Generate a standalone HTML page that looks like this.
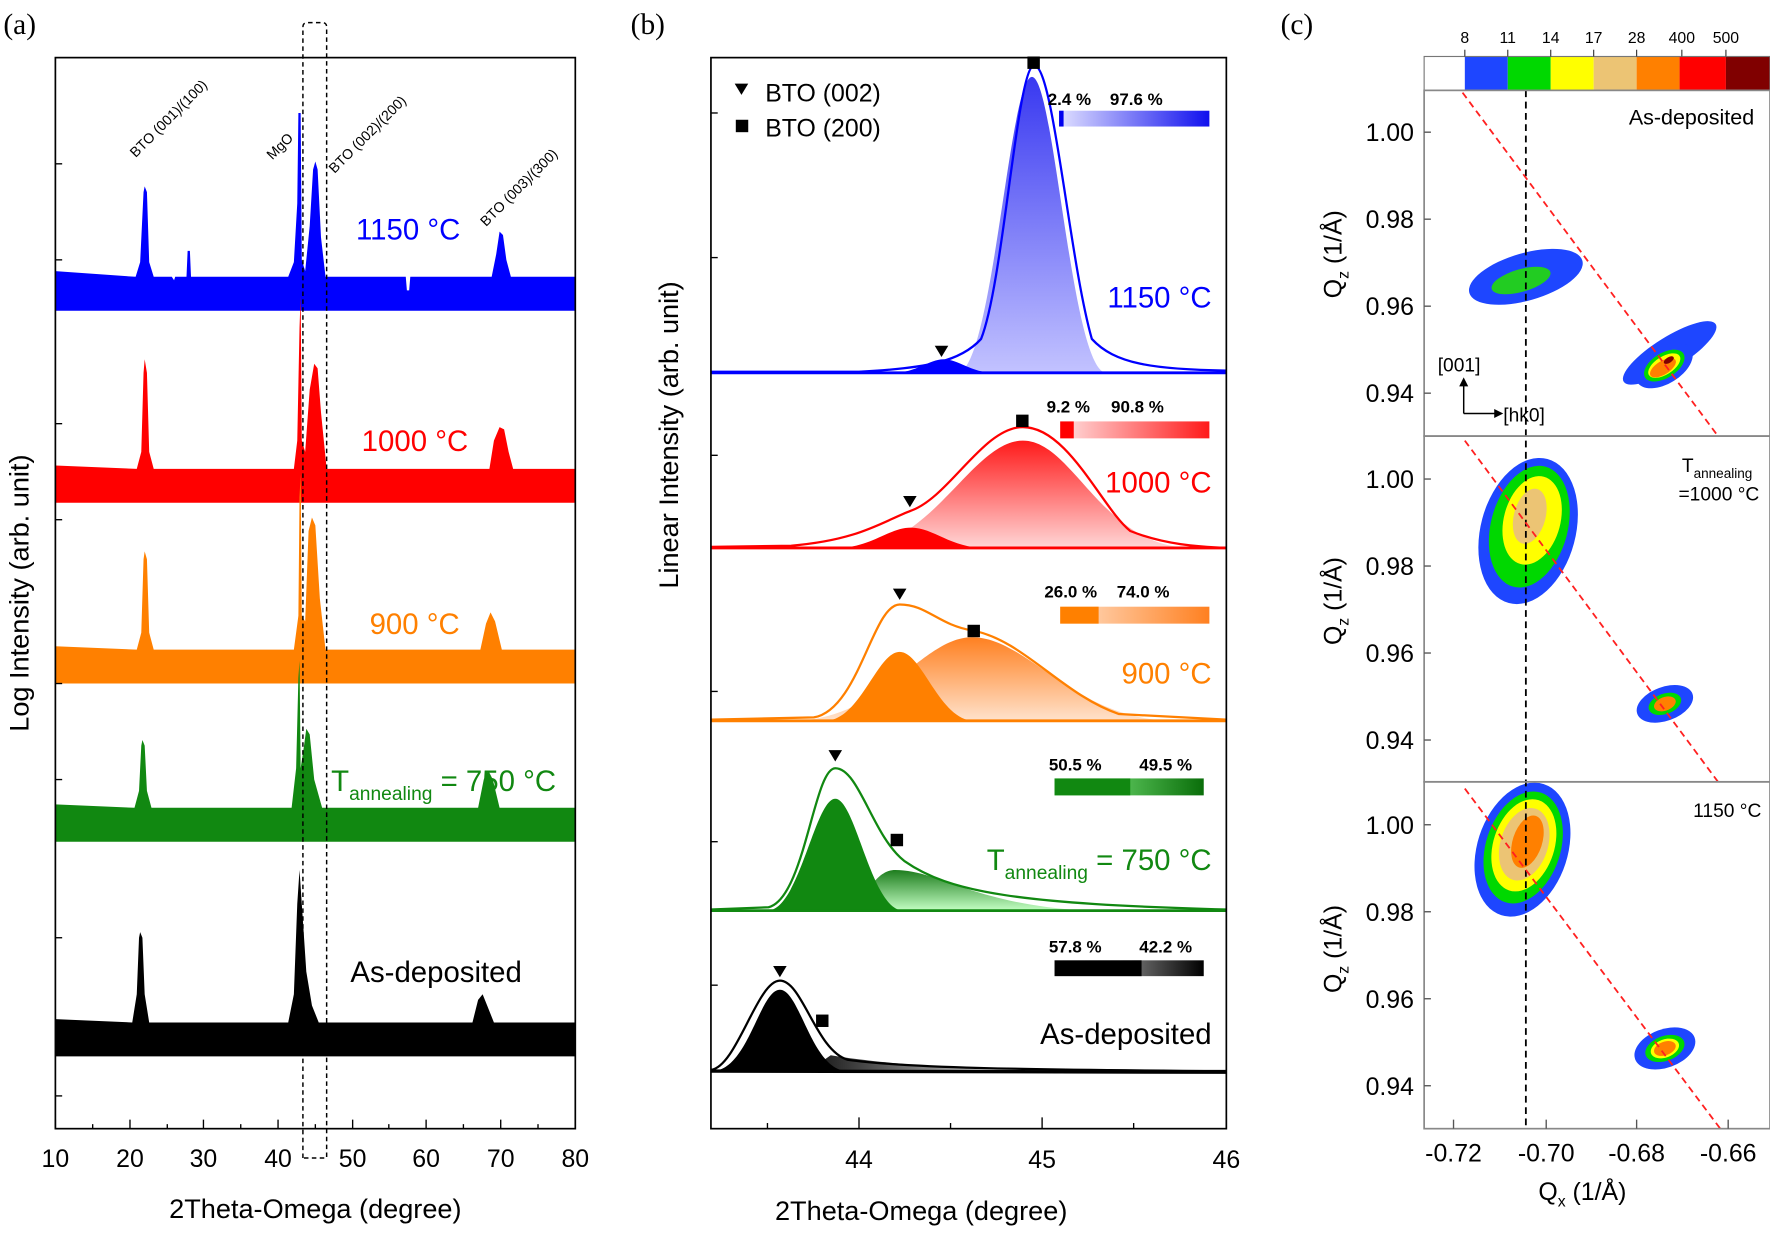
<!DOCTYPE html>
<html><head><meta charset="utf-8"><style>
html,body{margin:0;padding:0;background:#fff;}
svg{display:block;}
text{font-family:"Liberation Sans",sans-serif;}
</style></head><body>
<svg width="1770" height="1236" viewBox="0 0 1566 1094" preserveAspectRatio="none" xmlns="http://www.w3.org/2000/svg">
<defs>
<linearGradient id="gB" x1="0" y1="0" x2="0" y2="1"><stop offset="0" stop-color="#1515ee"/><stop offset="1" stop-color="#b8b8ff"/></linearGradient>
<linearGradient id="gR" x1="0" y1="0" x2="0" y2="1"><stop offset="0" stop-color="#ff1a1a"/><stop offset="1" stop-color="#ffd6d6"/></linearGradient>
<linearGradient id="gO" x1="0" y1="0" x2="0" y2="1"><stop offset="0" stop-color="#ff8020"/><stop offset="1" stop-color="#ffe2cc"/></linearGradient>
<linearGradient id="gG" x1="0" y1="0" x2="0" y2="1"><stop offset="0" stop-color="#1d7d1d"/><stop offset="1" stop-color="#c4ffc4"/></linearGradient>
<linearGradient id="gK" x1="0" y1="0" x2="1" y2="0"><stop offset="0" stop-color="#111"/><stop offset="1" stop-color="#ddd"/></linearGradient>
<linearGradient id="hB" x1="0" x2="1"><stop offset="0" stop-color="#e0e0ff"/><stop offset="1" stop-color="#1010ee"/></linearGradient>
<linearGradient id="hR" x1="0" x2="1"><stop offset="0" stop-color="#ffe0e0"/><stop offset="1" stop-color="#ff1a1a"/></linearGradient>
<linearGradient id="hO" x1="0" x2="1"><stop offset="0" stop-color="#ffe0c8"/><stop offset="1" stop-color="#ff8020"/></linearGradient>
<linearGradient id="hG" x1="0" x2="1"><stop offset="0" stop-color="#90ff90"/><stop offset="1" stop-color="#0a6e0a"/></linearGradient>
<linearGradient id="hK" x1="0" x2="1"><stop offset="0" stop-color="#e8e8e8"/><stop offset="1" stop-color="#000"/></linearGradient>
</defs>

<!-- ================= PANEL A ================= -->
<text x="3" y="30" style="font-family:'Liberation Serif',serif" font-size="26">(a)</text>
<polygon fill="#0000ff" points="49,240 120,245 124,232 127,170 128,165 130,170 132,232 136,245 152,245 154,248 155,245 165,245 166,222 168,222 169,245 255,245 260,232 263,180 264,100 266,100 267,230 270,240 274,200 277,150 279,143 281,150 284,210 288,245 359,245 360,257 362,257 363,245 435,245 439,225 442,205 445,208 448,230 452,245 509,245 509,275 49,275"/>
<polygon fill="#ff0000" points="49,412 121,415 125,400 127,330 128,318 130,330 132,400 136,415 260,415 263,390 265,290 266,262 267,390 270,400 274,345 278,322 281,326 284,365 289,415 433,415 437,390 442,378 446,380 450,400 454,415 509,415 509,445 49,445"/>
<polygon fill="#ff8000" points="49,572 121,575 125,560 127,495 128,488 130,495 132,560 136,575 260,575 264,545 265,440 266,420 267,545 270,550 273,470 276,458 279,465 283,530 288,575 425,575 430,552 434,542 438,550 444,575 509,575 509,605 49,605"/>
<polygon fill="#118811" points="49,712 119,715 123,700 125,660 126,655 128,660 130,700 134,715 258,715 262,680 264,600 265,585 266,680 269,660 271,645 274,650 278,690 285,715 423,715 428,690 432,682 436,690 442,715 509,715 509,745 49,745"/>
<polygon fill="#000" points="49,902 117,905 121,880 123,830 124,825 126,830 128,880 132,905 255,905 260,880 263,800 265,770 267,800 271,860 276,890 282,905 418,905 423,885 427,880 431,890 437,905 509,905 509,935 49,935"/>
<rect x="49" y="51" width="460" height="948" fill="none" stroke="#000" stroke-width="1.5"/>
<g stroke="#000" stroke-width="1.2">
<line x1="49" y1="145" x2="55" y2="145"/><line x1="49" y1="230" x2="55" y2="230"/><line x1="49" y1="375" x2="55" y2="375"/><line x1="49" y1="460" x2="55" y2="460"/><line x1="49" y1="605" x2="55" y2="605"/><line x1="49" y1="690" x2="55" y2="690"/><line x1="49" y1="830" x2="55" y2="830"/><line x1="49" y1="970" x2="55" y2="970"/>
<line x1="49" y1="999" x2="49" y2="991"/><line x1="115" y1="999" x2="115" y2="991"/><line x1="180" y1="999" x2="180" y2="991"/><line x1="246" y1="999" x2="246" y2="991"/><line x1="312" y1="999" x2="312" y2="991"/><line x1="377" y1="999" x2="377" y2="991"/><line x1="443" y1="999" x2="443" y2="991"/><line x1="509" y1="999" x2="509" y2="991"/>
<line x1="82" y1="999" x2="82" y2="995"/><line x1="148" y1="999" x2="148" y2="995"/><line x1="213" y1="999" x2="213" y2="995"/><line x1="279" y1="999" x2="279" y2="995"/><line x1="344" y1="999" x2="344" y2="995"/><line x1="410" y1="999" x2="410" y2="995"/><line x1="476" y1="999" x2="476" y2="995"/>
</g>
<path d="M268,1025 L268,24 Q268,20 272,20 L285,20 Q289,20 289,24 L289,1025 Z" fill="none" stroke="#000" stroke-width="1.3" stroke-dasharray="4,3"/>
<g font-size="22" text-anchor="middle">
<text x="49" y="1033">10</text><text x="115" y="1033">20</text><text x="180" y="1033">30</text><text x="246" y="1033">40</text><text x="312" y="1033">50</text><text x="377" y="1033">60</text><text x="443" y="1033">70</text><text x="509" y="1033">80</text>
</g>
<text x="279" y="1078" font-size="24" text-anchor="middle">2Theta-Omega (degree)</text>
<text transform="translate(25,525) rotate(-90)" font-size="24" text-anchor="middle">Log Intensity (arb. unit)</text>
<g font-size="12.5">
<text transform="translate(120,140) rotate(-45)">BTO (001)/(100)</text>
<text transform="translate(241,142) rotate(-45)">MgO</text>
<text transform="translate(296,154) rotate(-45)">BTO (002)/(200)</text>
<text transform="translate(430,201) rotate(-45)">BTO (003)/(300)</text>
</g>
<g font-size="26">
<text x="315" y="212" fill="#0000ff">1150 °C</text>
<text x="320" y="399" fill="#ff0000">1000 °C</text>
<text x="327" y="561" fill="#ff8000">900 °C</text>
<text x="293" y="700" fill="#118811">T<tspan font-size="17" dy="8">annealing</tspan><tspan dy="-8"> = 750 °C</tspan></text>
<text x="310" y="869" fill="#000">As-deposited</text>
</g>

<!-- ================= PANEL B ================= -->
<text x="558" y="30" style="font-family:'Liberation Serif',serif" font-size="26">(b)</text>
<path d="M847,330 C878,330 893,68 913,68 C933,68 948,330 979,330 Z" fill="url(#gB)" opacity="0.85"/>
<path d="M790,330 C811,330 822,318 835,318 C848,318 859,330 880,330 Z" fill="#0000ff"/>
<path d="M629,329 L760,329 C820,326 850,320 868,300 C888,250 900,58 915,58 C932,58 946,230 966,300 C986,322 1020,327 1085,328" fill="none" stroke="#0000ff" stroke-width="2"/>
<line x1="629" y1="330" x2="1085" y2="330" stroke="#0000ff" stroke-width="2.5"/>
<path d="M755,485 C825,485 860,390 905,390 C950,390 975,485 1055,485 Z" fill="url(#gR)"/>
<path d="M740,485 C771,485 786,467 806,467 C826,467 841,485 872,485 Z" fill="#ff0000"/>
<path d="M629,484 L700,483 C760,478 780,462 806,452 C840,440 870,378 905,378 C945,378 975,450 1000,470 C1030,482 1060,484 1085,485" fill="none" stroke="#ff0000" stroke-width="2"/>
<line x1="629" y1="485" x2="1085" y2="485" stroke="#ff0000" stroke-width="2.5"/>
<path d="M700,638 C780,638 815,564 860,564 C910,564 950,638 1040,638 Z" fill="url(#gO)"/>
<path d="M730,638 C761,638 776,577 796,577 C816,577 831,638 862,638 Z" fill="#ff8000"/>
<path d="M629,637 L720,635 C760,628 772,535 796,535 C820,535 830,553 860,558 C905,566 940,615 990,632 L1085,637" fill="none" stroke="#ff8000" stroke-width="2"/>
<line x1="629" y1="638" x2="1085" y2="638" stroke="#ff8000" stroke-width="2.5"/>
<path d="M740,806 C765,806 770,770 792,770 C830,770 860,800 960,806 Z" fill="url(#gG)"/>
<path d="M679,806 C707,806 721,707 739,707 C757,707 771,806 799,806 Z" fill="#118811"/>
<path d="M629,805 L680,803 C712,795 720,680 739,680 C760,680 772,740 800,762 C840,790 900,800 1085,805" fill="none" stroke="#118811" stroke-width="2"/>
<line x1="629" y1="806" x2="1085" y2="806" stroke="#118811" stroke-width="2.5"/>
<path d="M715,948 L735,934 C770,940 830,945 900,948 Z" fill="url(#gK)"/>
<path d="M630,948 C662,948 672,876 690,876 C708,876 718,948 750,948 Z" fill="#000"/>
<path d="M629,947 C652,944 670,868 690,868 C710,868 722,930 750,938 C800,945 900,947 1085,948" fill="none" stroke="#000" stroke-width="2"/>
<line x1="629" y1="948" x2="1085" y2="949" stroke="#000" stroke-width="3"/>
<rect x="629" y="51" width="456" height="948" fill="none" stroke="#000" stroke-width="1.5"/>
<g stroke="#000" stroke-width="1.2">
<line x1="629" y1="100" x2="635" y2="100"/><line x1="629" y1="228" x2="635" y2="228"/><line x1="629" y1="403" x2="635" y2="403"/><line x1="629" y1="612" x2="635" y2="612"/><line x1="629" y1="745" x2="635" y2="745"/><line x1="629" y1="872" x2="635" y2="872"/>
<line x1="760" y1="999" x2="760" y2="989"/><line x1="922" y1="999" x2="922" y2="989"/><line x1="1085" y1="999" x2="1085" y2="989"/>
<line x1="679" y1="999" x2="679" y2="994"/><line x1="841" y1="999" x2="841" y2="994"/><line x1="1003" y1="999" x2="1003" y2="994"/>
</g>
<g font-size="22" text-anchor="middle"><text x="760" y="1034">44</text><text x="922" y="1034">45</text><text x="1085" y="1034">46</text></g>
<text x="815" y="1080" font-size="24" text-anchor="middle">2Theta-Omega (degree)</text>
<text transform="translate(600,385) rotate(-90)" font-size="24" text-anchor="middle">Linear Intensity (arb. unit)</text>
<path d="M650,74 L662,74 L656,84 Z" fill="#000"/><text x="677" y="90" font-size="22">BTO (002)</text>
<rect x="651" y="106" width="11" height="11" fill="#000"/><text x="677" y="121" font-size="22">BTO (200)</text>
<g fill="#000">
<rect x="909" y="50" width="11" height="11"/><path d="M827,306 L839,306 L833,316 Z"/>
<rect x="899" y="367" width="11" height="11"/><path d="M799,439 L811,439 L805,449 Z"/>
<rect x="856" y="553" width="11" height="11"/><path d="M790,521 L802,521 L796,531 Z"/>
<rect x="788" y="738" width="11" height="11"/><path d="M733,664 L745,664 L739,674 Z"/>
<rect x="722" y="898" width="11" height="11"/><path d="M684,855 L696,855 L690,865 Z"/>
</g>
<g font-size="15" font-weight="bold">
<text x="927" y="93">2.4 %</text><text x="982" y="93">97.6 %</text>
<text x="926" y="365">9.2 %</text><text x="983" y="365">90.8 %</text>
<text x="924" y="529">26.0 %</text><text x="988" y="529">74.0 %</text>
<text x="928" y="682">50.5 %</text><text x="1008" y="682">49.5 %</text>
<text x="928" y="843">57.8 %</text><text x="1008" y="843">42.2 %</text>
</g>
<rect x="937" y="98" width="133" height="14" fill="url(#hB)"/><rect x="937" y="98" width="4" height="14" fill="#0000ee"/>
<rect x="938" y="373" width="132" height="15" fill="url(#hR)"/><rect x="938" y="373" width="12" height="15" fill="#ff0000"/>
<rect x="938" y="537" width="132" height="15" fill="url(#hO)"/><rect x="938" y="537" width="34" height="15" fill="#ff8000"/>
<rect x="933" y="689" width="132" height="15" fill="url(#hG)"/><rect x="933" y="689" width="67" height="15" fill="#118811"/>
<rect x="933" y="850" width="132" height="14" fill="url(#hK)"/><rect x="933" y="850" width="77" height="14" fill="#000"/>
<g font-size="26" text-anchor="end">
<text x="1072" y="272" fill="#0000ff">1150 °C</text>
<text x="1072" y="436" fill="#ff0000">1000 °C</text>
<text x="1072" y="605" fill="#ff8000">900 °C</text>
<text x="1072" y="770" fill="#118811">T<tspan font-size="17" dy="8">annealing</tspan><tspan dy="-8"> = 750 °C</tspan></text>
<text x="1072" y="924" fill="#000">As-deposited</text>
</g>

<!-- ================= PANEL C ================= -->
<text x="1133" y="30" style="font-family:'Liberation Serif',serif" font-size="26">(c)</text>
<rect x="1296" y="50" width="38" height="30" fill="#1e46ff"/>
<rect x="1334" y="50" width="38" height="30" fill="#00d800"/>
<rect x="1372" y="50" width="38" height="30" fill="#ffff00"/>
<rect x="1410" y="50" width="38" height="30" fill="#ecc474"/>
<rect x="1448" y="50" width="38" height="30" fill="#ff8000"/>
<rect x="1486" y="50" width="41" height="30" fill="#ff0000"/>
<rect x="1527" y="50" width="39" height="30" fill="#800000"/>
<rect x="1260" y="50" width="306" height="30" fill="none" stroke="#777" stroke-width="1"/>
<g stroke="#333" stroke-width="1"><line x1="1296" y1="44" x2="1296" y2="50"/><line x1="1334" y1="44" x2="1334" y2="50"/><line x1="1372" y1="44" x2="1372" y2="50"/><line x1="1410" y1="44" x2="1410" y2="50"/><line x1="1448" y1="44" x2="1448" y2="50"/><line x1="1488" y1="44" x2="1488" y2="50"/><line x1="1527" y1="44" x2="1527" y2="50"/></g>
<g font-size="14" text-anchor="middle"><text x="1296" y="38">8</text><text x="1334" y="38">11</text><text x="1372" y="38">14</text><text x="1410" y="38">17</text><text x="1448" y="38">28</text><text x="1488" y="38">400</text><text x="1527" y="38">500</text></g>

<g transform="rotate(-16 1350 245)"><ellipse cx="1350" cy="245" rx="52" ry="21" fill="#1e46ff"/><ellipse cx="1345" cy="247" rx="27" ry="10" fill="#22cc22"/></g>
<g transform="rotate(-32 1475 322)"><ellipse cx="1482" cy="315" rx="48" ry="14" fill="#1e46ff"/><ellipse cx="1472" cy="322" rx="28" ry="16" fill="#1e46ff"/><ellipse cx="1472" cy="322" rx="20" ry="11" fill="#00d800"/><ellipse cx="1472" cy="322" rx="16" ry="8" fill="#ffff00"/><ellipse cx="1470" cy="323" rx="13" ry="6" fill="#ff8000"/><ellipse cx="1478" cy="320" rx="5" ry="2.5" fill="#800000"/></g>
<g transform="rotate(15 1352 470)"><ellipse cx="1352" cy="470" rx="42" ry="66" fill="#1e46ff"/><ellipse cx="1352" cy="466" rx="34" ry="55" fill="#00d800"/><ellipse cx="1353" cy="460" rx="25" ry="40" fill="#ffff00"/><ellipse cx="1350" cy="457" rx="14" ry="25" fill="#ecc474"/></g>
<g transform="rotate(-20 1473 623)"><ellipse cx="1473" cy="623" rx="26" ry="15" fill="#1e46ff"/><ellipse cx="1473" cy="623" rx="15" ry="9" fill="#00d800"/><ellipse cx="1473" cy="623" rx="10" ry="6" fill="#ff8000"/></g>
<g transform="rotate(18 1347 752)"><ellipse cx="1347" cy="752" rx="40" ry="61" fill="#1e46ff"/><ellipse cx="1347" cy="750" rx="33" ry="51" fill="#00d800"/><ellipse cx="1347" cy="748" rx="27" ry="42" fill="#ffff00"/><ellipse cx="1347" cy="747" rx="21" ry="33" fill="#ecc474"/><ellipse cx="1349" cy="744" rx="13" ry="24" fill="#ff8000"/></g>
<g transform="rotate(-20 1473 928)"><ellipse cx="1473" cy="928" rx="28" ry="17" fill="#1e46ff"/><ellipse cx="1473" cy="928" rx="18" ry="11" fill="#00d800"/><ellipse cx="1473" cy="928" rx="13" ry="8" fill="#ffff00"/><ellipse cx="1473" cy="928" rx="10" ry="6" fill="#ff8000"/></g>
<line x1="1350" y1="80" x2="1350" y2="999" stroke="#000" stroke-width="1.6" stroke-dasharray="6,4"/>
<g stroke="#ff2020" stroke-width="1.6" stroke-dasharray="6,4">
<line x1="1294" y1="82" x2="1520" y2="386"/><line x1="1296" y1="390" x2="1520" y2="692"/><line x1="1296" y1="698" x2="1522" y2="999"/>
</g>
<g fill="none" stroke="#888" stroke-width="1.5"><rect x="1260" y="80" width="306" height="306"/><rect x="1260" y="386" width="306" height="306"/><rect x="1260" y="692" width="306" height="307"/></g>
<g stroke="#555" stroke-width="1.2">
<line x1="1260" y1="117" x2="1266" y2="117"/><line x1="1260" y1="194" x2="1266" y2="194"/><line x1="1260" y1="271" x2="1266" y2="271"/><line x1="1260" y1="348" x2="1266" y2="348"/>
<line x1="1260" y1="424" x2="1266" y2="424"/><line x1="1260" y1="501" x2="1266" y2="501"/><line x1="1260" y1="578" x2="1266" y2="578"/><line x1="1260" y1="655" x2="1266" y2="655"/>
<line x1="1260" y1="730" x2="1266" y2="730"/><line x1="1260" y1="807" x2="1266" y2="807"/><line x1="1260" y1="884" x2="1266" y2="884"/><line x1="1260" y1="961" x2="1266" y2="961"/>
<line x1="1286" y1="999" x2="1286" y2="991"/><line x1="1368" y1="999" x2="1368" y2="991"/><line x1="1448" y1="999" x2="1448" y2="991"/><line x1="1529" y1="999" x2="1529" y2="991"/>
</g>
<g font-size="22" text-anchor="end">
<text x="1251" y="125">1.00</text><text x="1251" y="202">0.98</text><text x="1251" y="279">0.96</text><text x="1251" y="356">0.94</text>
<text x="1251" y="432">1.00</text><text x="1251" y="509">0.98</text><text x="1251" y="586">0.96</text><text x="1251" y="663">0.94</text>
<text x="1251" y="738">1.00</text><text x="1251" y="815">0.98</text><text x="1251" y="892">0.96</text><text x="1251" y="969">0.94</text>
</g>
<g font-size="22" text-anchor="middle"><text x="1286" y="1028">-0.72</text><text x="1368" y="1028">-0.70</text><text x="1448" y="1028">-0.68</text><text x="1529" y="1028">-0.66</text></g>
<text x="1400" y="1062" font-size="22" text-anchor="middle">Q<tspan font-size="14" dy="6">x</tspan><tspan dy="-6"> (1/Å)</tspan></text>
<g font-size="22" text-anchor="middle">
<text transform="translate(1187,225) rotate(-90)">Q<tspan font-size="14" dy="6">z</tspan><tspan dy="-6"> (1/Å)</tspan></text>
<text transform="translate(1187,532) rotate(-90)">Q<tspan font-size="14" dy="6">z</tspan><tspan dy="-6"> (1/Å)</tspan></text>
<text transform="translate(1187,840) rotate(-90)">Q<tspan font-size="14" dy="6">z</tspan><tspan dy="-6"> (1/Å)</tspan></text>
</g>
<text x="1552" y="110" font-size="19" text-anchor="end">As-deposited</text>
<text x="1488" y="418" font-size="17">T<tspan font-size="12" dy="5">annealing</tspan></text>
<text x="1485" y="443" font-size="17">=1000 °C</text>
<text x="1498" y="723" font-size="17">1150 °C</text>
<text x="1272" y="329" font-size="17">[001]</text>
<text x="1330" y="373" font-size="17">[hk0]</text>
<g stroke="#000" stroke-width="1.3" fill="none"><path d="M1295,366 L1295,340 M1295,366 L1324,366"/></g>
<path d="M1291,342 L1299,342 L1295,334 Z" fill="#000"/><path d="M1322,362 L1322,370 L1330,366 Z" fill="#000"/>
</svg>
</body></html>
